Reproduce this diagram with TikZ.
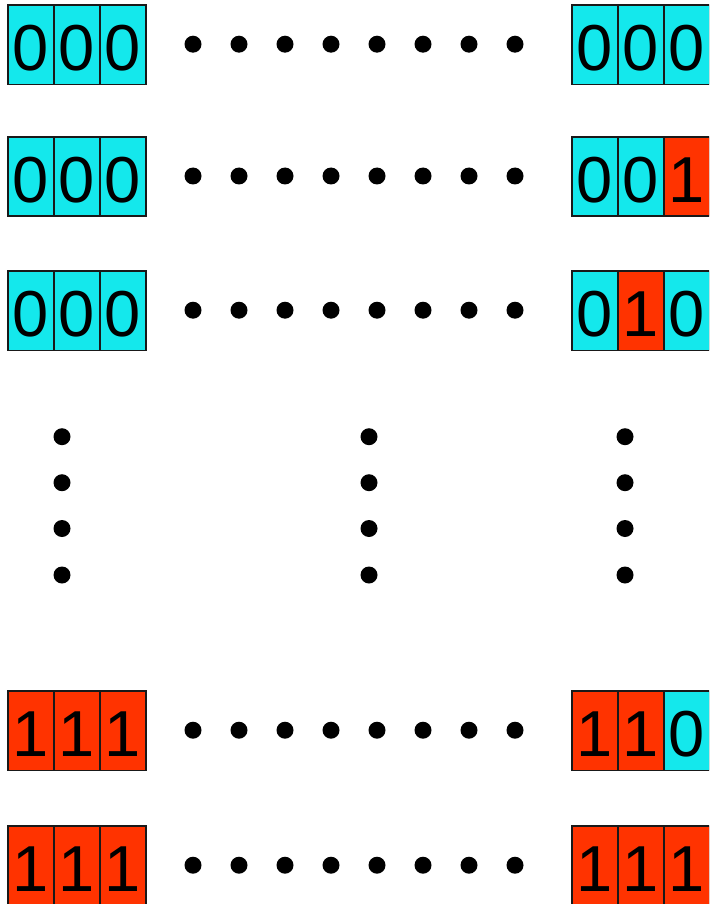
\documentclass[tikz,border=0pt]{standalone}
\usepackage{fontspec}
\setmainfont{Liberation Sans}
\definecolor{cy}{RGB}{20,232,236}
\definecolor{rd}{RGB}{255,51,0}
\begin{document}
\begin{tikzpicture}[x=1pt,y=-1pt,
  cellz/.style={draw=black!90,line width=1.6pt,minimum width=46pt,minimum height=79.5pt,
    inner sep=0pt,outer sep=0pt,font=\fontsize{65}{65}\selectfont,
    text height=52.5pt,text depth=0pt,anchor=center},
  bit0/.style={cellz,fill=cy},
  bit1/.style={cellz,fill=rd},
  dotz/.style={circle,fill=black,minimum size=17pt,inner sep=0pt}]
\useasboundingbox (0,0) rectangle (709,904);
\clip (0,0) rectangle (709,904);
% rows: y-centre / left bits / right bits
\foreach \r/\yy/\la/\lb/\lc/\ra/\rb/\rc in {
  1/44.7/0/0/0/0/0/0,
  2/176.5/0/0/0/0/0/1,
  3/310.7/0/0/0/0/1/0,
  4/730.7/1/1/1/1/1/0,
  5/865.7/1/1/1/1/1/1}{
  \node[bit\la] (L\r a) at (31,\yy) {\la};
  \node[bit\lb] (L\r b) at (77,\yy) {\lb};
  \node[bit\lc] (L\r c) at (123,\yy) {\lc};
  \node[bit\ra] (R\r a) at (595,\yy) {\ra};
  \node[bit\rb] (R\r b) at (641,\yy) {\rb};
  \node[bit\rc] (R\r c) at (687,\yy) {\rc};
  \foreach \k in {0,...,7}{
    \node[dotz] (H\r d\k) at ({193+46*\k},\yy-0.5) {};
  }
}
% vertical dots
\foreach \c/\xx in {1/62,2/369,3/625}{
  \foreach \k/\vy in {0/436.7,1/482.7,2/528.5,3/575}{
    \node[dotz] (V\c d\k) at (\xx,\vy) {};
  }
}
\end{tikzpicture}
\end{document}
